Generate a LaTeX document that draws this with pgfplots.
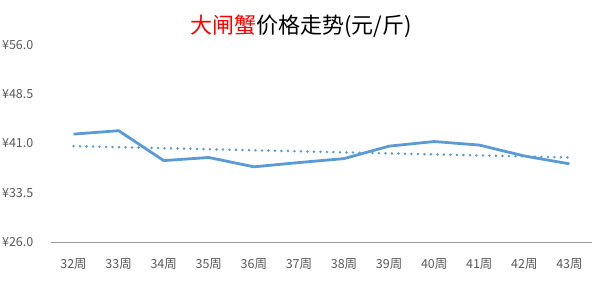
\documentclass[border=0pt]{standalone}
\usepackage{fontspec}
\setmainfont{Noto Sans CJK SC}
\usepackage{pgfplots}
\pgfplotsset{compat=1.18}
\definecolor{lineblue}{HTML}{5B9BD5}
\definecolor{ticktext}{HTML}{595959}
\begin{document}
\begin{tikzpicture}
\begin{axis}[
  at={(0pt,0pt)}, anchor=south west,
  scale only axis, width=541pt, height=197pt,
  xmin=-0.5, xmax=11.5, ymin=26, ymax=56,
  axis y line=none,
  axis x line*=bottom,
  x axis line style={draw=black!40, line width=0.9pt, -},
  xtick={0,...,11},
  xticklabels={32周,33周,34周,35周,36周,37周,38周,39周,40周,41周,42周,43周},
  major tick length=0pt,
  ytick={26,33.5,41,48.5,56},
  /pgf/number format/assume math mode=true,
  ticklabel style={font=\fontsize{12.5}{14}\selectfont, text=ticktext},
  xticklabel style={anchor=center, yshift=-22pt},
  clip=false,
]
\addplot[lineblue, line width=2.8pt, line join=round] coordinates {
 (0,42.43) (1,42.95) (2,38.4) (3,38.87) (4,37.45) (5,38.1)
 (6,38.7) (7,40.6) (8,41.3) (9,40.76) (10,39.1) (11,37.9)};
\addplot[lineblue, line width=2.8pt, dash pattern=on 0pt off 6.5pt, line cap=round] coordinates {
 (0,40.6) (11,38.87)};
\end{axis}
\foreach \v/\t in {0/26.0,1/33.5,2/41.0,3/48.5,4/56.0}{
  \node[anchor=east, font=\fontsize{12.5}{14}\selectfont, text=ticktext, inner sep=0pt] at (-17.5pt,{\v*197/4*1pt}) {¥\t};
}
\node[font=\fontsize{22}{26}\selectfont, inner sep=0pt] at (250pt,216pt) {\textcolor{red}{大闸蟹}价格走势(元/斤)};
\path[use as bounding box] (-51pt,-40pt) rectangle (549pt,242pt);
\end{tikzpicture}
\end{document}
